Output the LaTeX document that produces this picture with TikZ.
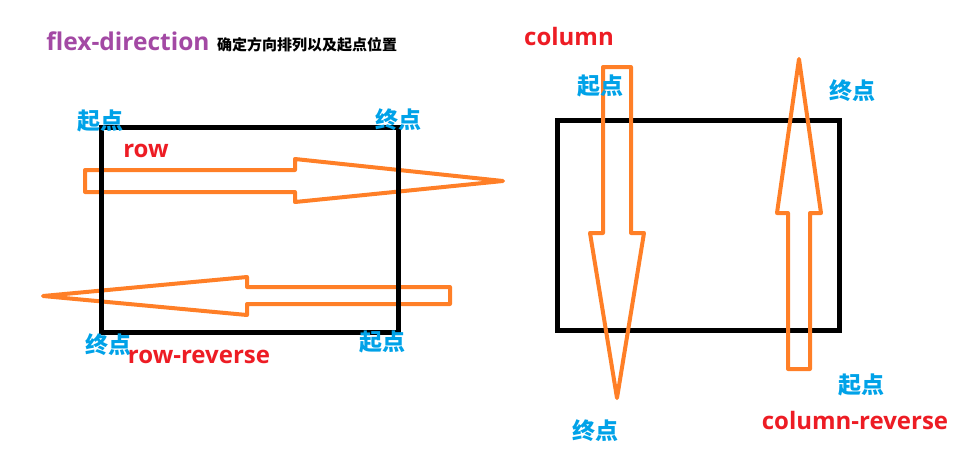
\documentclass[tikz,border=0pt]{standalone}
\usepackage{fontspec}
\setmainfont{Open Sans}
\newfontfamily\cjk{Noto Sans CJK SC}
\usetikzlibrary{positioning}
\definecolor{paintorange}{RGB}{255,127,39}
\definecolor{paintblue}{RGB}{0,162,232}
\definecolor{paintred}{RGB}{237,28,36}
\definecolor{paintpurple}{RGB}{163,73,164}
\tikzstyle{box}=[draw=black,line width=5pt]
\tikzstyle{flow}=[draw=paintorange,line width=4pt,line join=round]
\tikzstyle{endlabel}=[text=paintblue,font=\cjk\bfseries\fontsize{23}{23}\selectfont,inner sep=0pt]
\tikzstyle{dirlabel}=[text=paintred,font=\bfseries\fontsize{24}{24}\selectfont,inner sep=0pt]

\begin{document}
\begin{tikzpicture}[x=1pt,y=-1pt]
  \useasboundingbox (0,0) rectangle (970,467);
  % title
  \node [text=paintpurple,font=\bfseries\fontsize{24.5}{24.5}\selectfont,inner sep=0pt] (title) at (128,41) {flex-direction};
  \node [font=\cjk\bfseries\fontsize{15}{15}\selectfont,inner sep=0pt,anchor=west] (subtitle) at (217,45) {确定方向排列以及起点位置};
  % row / row-reverse
  \draw [flow] (85,170) -- (295,170) -- (295,159) -- (503,181) -- (295,202) -- (295,192) -- (85,192) -- cycle;
  \draw [flow] (450,287) -- (247,287) -- (247,277) -- (43,296) -- (247,315) -- (247,304) -- (450,304) -- cycle;
  \draw [box] (101,127) rectangle (398,332);
  \node [endlabel] (rowstart) at (100,121) {起点};
  \node [endlabel] (rowend) at (398,120) {终点};
  \node [dirlabel] (row) at (146,151) {row};
  \node [endlabel] (revend) at (108,345) {终点};
  \node [endlabel] (revstart) at (382,342) {起点};
  \node [dirlabel] (rowrev) at (199,357) {row-reverse};
  % column / column-reverse
  \draw [box] (557,120) rectangle (839,330);
  \draw [flow] (603,67) -- (631,67) -- (631,233) -- (644,233) -- (617,398) -- (590,233) -- (603,233) -- cycle;
  \draw [flow] (788,369) -- (810,369) -- (810,213) -- (821,213) -- (799,59) -- (777,213) -- (788,213) -- cycle;
  \node [dirlabel] (column) at (569,36) {column};
  \node [endlabel] (colstart) at (600,86) {起点};
  \node [endlabel] (colend) at (595,431) {终点};
  \node [endlabel] (crevend) at (852,91) {终点};
  \node [endlabel] (crevstart) at (861,385) {起点};
  \node [dirlabel] (colrev) at (855,420) {column-reverse};
\end{tikzpicture}
\end{document}
